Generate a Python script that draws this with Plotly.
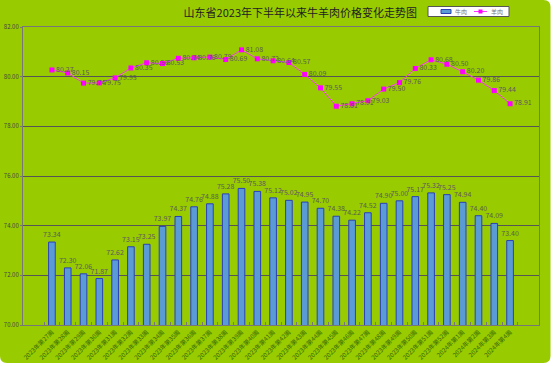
import plotly.graph_objects as go

weeks = [f"2023年第{w}周" for w in range(27, 53)] + [f"2024年第{w}周" for w in range(1, 5)]
beef = [73.34, 72.30, 72.06, 71.87, 72.62, 73.15, 73.25, 73.97, 74.37, 74.76,
        74.88, 75.28, 75.50, 75.38, 75.12, 75.02, 74.95, 74.70, 74.38, 74.22,
        74.52, 74.90, 75.00, 75.17, 75.32, 75.25, 74.94, 74.40, 74.09, 73.40]
mutton = [80.27, 80.15, 79.74, 79.75, 79.95, 80.35, 80.56, 80.53, 80.74, 80.76,
          80.79, 80.69, 81.08, 80.72, 80.64, 80.57, 80.09, 79.55, 78.81, 78.91,
          79.03, 79.50, 79.76, 80.33, 80.68, 80.50, 80.20, 79.86, 79.44, 78.91]
yticks = [70, 72, 74, 76, 78, 80, 82]

font_cjk = "Noto Sans CJK SC"
BAR_FILL = "#5B9BD5"
BAR_LINE = "#2A3FB8"
LINE_COL = "#FF33FF"
GREEN = "#99CC00"

fig = go.Figure()
fig.add_trace(go.Bar(
    x=weeks, y=beef, name="牛肉",
    marker=dict(color=BAR_FILL, line=dict(color=BAR_LINE, width=1)),
    width=0.42,
    text=[f"{v:.2f}" for v in beef], textposition="outside", constraintext="none",
    textfont=dict(size=7, color="#5a5a5a", family=font_cjk),
    cliponaxis=False, hoverinfo="skip",
))
fig.add_trace(go.Scatter(
    x=weeks, y=mutton, name="羊肉", mode="lines+markers+text",
    line=dict(color=LINE_COL, width=1),
    marker=dict(color="#FF00FF", symbol="square", size=5),
    text=[f"{v:.2f}" for v in mutton], textposition="middle right",
    textfont=dict(size=7, color="#5a5a5a", family=font_cjk),
    cliponaxis=False, hoverinfo="skip",
))

# plot area in pixels: x 23..539, y 27..325
L, R, T, B = 23, 539, 27, 325
def px(x):
    return (x - L) / (R - L)
def py(y):
    return (B - y) / (B - T)

# rounded green background panel
x0, x1, y0, y1 = px(0), px(550.5), py(363), py(0)
rx, ry = 7 / (R - L), 7 / (B - T)
panel = (f"M {x0},{y1} L {x1 - rx},{y1} Q {x1},{y1} {x1},{y1 - ry} "
         f"L {x1},{y0 + ry} Q {x1},{y0} {x1 - rx},{y0} "
         f"L {x0 + rx},{y0} Q {x0},{y0} {x0},{y0 + ry} Z")

shapes = [
    dict(type="path", xref="paper", yref="paper", path=panel, fillcolor=GREEN,
         line=dict(width=0), layer="below"),
    # legend box
    dict(type="rect", xref="paper", yref="paper", x0=px(428), x1=px(509), y0=py(16.5), y1=py(6.5),
         fillcolor="white", line=dict(color="#555555", width=1)),
    dict(type="rect", xref="paper", yref="paper", x0=px(441), x1=px(451), y0=py(13.5), y1=py(9.5),
         fillcolor=BAR_FILL, line=dict(color=BAR_LINE, width=1)),
    dict(type="line", xref="paper", yref="paper", x0=px(474), x1=px(487), y0=py(11.5), y1=py(11.5),
         line=dict(color=LINE_COL, width=1)),
    dict(type="rect", xref="paper", yref="paper", x0=px(478.5), x1=px(482.5), y0=py(13.5), y1=py(9.5),
         fillcolor="#FF00FF", line=dict(color="#FF00FF", width=0)),
]
annotations = [
    dict(text="牛肉", xref="paper", yref="paper", x=px(453), y=py(11.5), xanchor="left", yanchor="middle",
         showarrow=False, font=dict(size=6, color="#777777", family=font_cjk)),
    dict(text="羊肉", xref="paper", yref="paper", x=px(489), y=py(11.5), xanchor="left", yanchor="middle",
         showarrow=False, font=dict(size=6, color="#777777", family=font_cjk)),
]

fig.update_layout(
    width=553, height=366,
    paper_bgcolor="white", plot_bgcolor="#C0C0C0",
    margin=dict(l=L, r=553 - R, t=T, b=366 - B, autoexpand=False),
    title=dict(text="山东省2023年下半年以来牛羊肉价格变化走势图", x=0.543, xanchor="center",
               y=1 - 13 / 366, yref="container", yanchor="middle",
               font=dict(size=11, color="#222222", family=font_cjk)),
    showlegend=False,
    shapes=shapes, annotations=annotations,
    bargap=0.58,
    font=dict(family=font_cjk),
)
fig.update_yaxes(range=[70, 82], tickvals=yticks, ticktext=[f"{v:.2f}" for v in yticks],
                 showgrid=True, gridcolor="#555555", gridwidth=1,
                 tickfont=dict(size=6, color="#444444", family=font_cjk),
                 showline=True, linecolor="#777777", ticks="outside", ticklen=2, tickcolor="#777777",
                 mirror=True, zeroline=False, automargin=False)
fig.update_xaxes(tickangle=-45, tickfont=dict(size=6.2, color="#336600", family=font_cjk),
                 showline=True, linecolor="#777777", mirror=True,
                 ticks="inside", tickson="boundaries", ticklen=3, tickcolor="#777777",
                 automargin=False)

fig.write_html("out.html", config={"displayModeBar": False},
               post_script="document.body.style.margin='0';document.body.style.overflow='hidden';")
